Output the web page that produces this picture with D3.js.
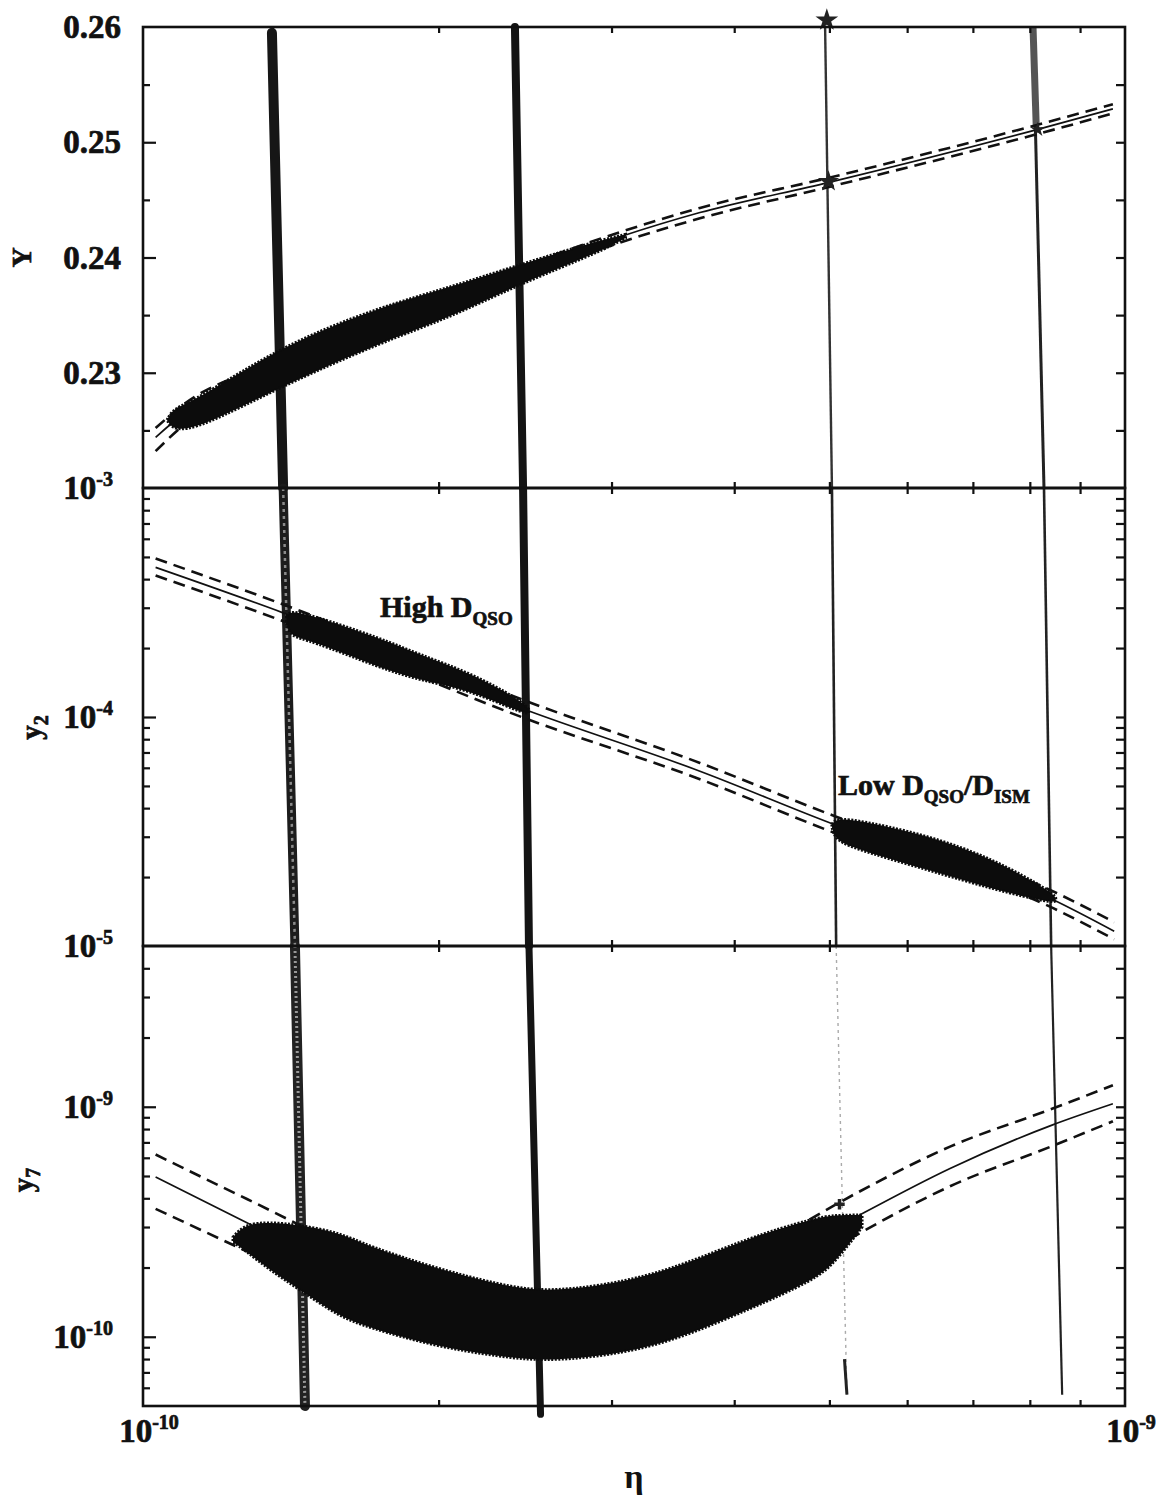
<!DOCTYPE html>
<html>
<head>
<meta charset="utf-8">
<script src="https://cdn.jsdelivr.net/npm/d3@7"></script>
<style>
  body { margin: 0; background: #fff; }
  svg { display: block; background: #fff; }
  text { font-family: "Liberation Serif", "DejaVu Serif", serif; font-weight: bold; fill: #111; }
  .lab { stroke: #111; stroke-width: 0.7px; }
</style>
</head>
<body>
<svg id="canvas" width="1162" height="1506"></svg>
<script>
// ---------- data ----------
// x axis: baryon-to-photon ratio eta
const etaDomain = [1e-10, 1e-9];
const etaMinor = [2e-10, 3e-10, 4e-10, 5e-10, 6e-10, 7e-10, 8e-10, 9e-10];
const etaLabels = [1e-10, 1e-9];

// top panel: Y
const heDomain = [0.22, 0.26];
const heMajor = [0.23, 0.24, 0.25];
const heMinor = [0.225, 0.235, 0.245, 0.255];
const heLabels = [0.26, 0.25, 0.24, 0.23];
const heEta  = [1.03e-10, 1.098e-10, 1.389e-10, 1.743e-10, 2.403e-10, 3.061e-10, 3.691e-10, 4.984e-10, 8.134e-10, 9.72e-10];
const heMid  = [0.2244, 0.2264, 0.2305, 0.2346, 0.2386, 0.2418, 0.2439, 0.2465, 0.2511, 0.2529];
const heHigh = [0.2252, 0.2272, 0.2312, 0.2352, 0.2391, 0.2422, 0.2443, 0.2469, 0.2515, 0.2533];
const heLow  = [0.2232, 0.2254, 0.2297, 0.2339, 0.2380, 0.2413, 0.2434, 0.2461, 0.2507, 0.2525];
const heBlobEta = [1.058e-10, 1.073e-10, 1.143e-10, 1.389e-10, 1.743e-10, 2.054e-10, 2.403e-10, 2.92e-10, 3.10e-10];
const heBlobTop = [0.2259, 0.2269, 0.2278, 0.2324, 0.2357, 0.2374, 0.2393, 0.2415, 0.2420];
const heBlobBot = [0.2259, 0.2250, 0.2252, 0.2289, 0.2326, 0.2348, 0.2376, 0.2405, 0.2417];

// middle panel: y2 (D/H)
const dDomain = [1e-5, 1e-3];
const dMajor = [1e-4];
const dMinor = [2e-5, 3e-5, 4e-5, 5e-5, 6e-5, 7e-5, 8e-5, 9e-5, 2e-4, 3e-4, 4e-4, 5e-4, 6e-4, 7e-4, 8e-4, 9e-4];
const dLabels = [1e-3, 1e-4, 1e-5];
const dEta  = [1.03e-10, 1.389e-10, 2.46e-10, 3.691e-10, 5.08e-10, 8.43e-10, 9.75e-10];
const dMid  = [4.5e-4, 2.85e-4, 1.07e-4, 5.8e-5, 3.37e-5, 1.6e-5, 1.16e-5];
const dHigh = [4.92e-4, 3.1e-4, 1.17e-4, 6.3e-5, 3.67e-5, 1.74e-5, 1.27e-5];
const dLow  = [4.15e-4, 2.62e-4, 0.98e-4, 5.35e-5, 3.1e-5, 1.47e-5, 1.07e-5];
const dHighBlobEta = [1.40e-10, 1.412e-10, 1.479e-10, 1.743e-10, 1.914e-10, 2.153e-10, 2.42e-10, 2.47e-10];
const dHighBlobTop = [2.75e-4, 2.9e-4, 2.8e-4, 2.21e-4, 1.87e-4, 1.56e-4, 1.19e-4, 1.08e-4];
const dHighBlobBot = [2.6e-4, 2.24e-4, 2.17e-4, 1.64e-4, 1.45e-4, 1.31e-4, 1.05e-4, 1.04e-4];
const dLowBlobEta = [5.03e-10, 5.067e-10, 5.224e-10, 6.30e-10, 7.375e-10, 8.43e-10, 8.5e-10];
const dLowBlobTop = [3.4e-5, 3.55e-5, 3.62e-5, 3.05e-5, 2.38e-5, 1.72e-5, 1.62e-5];
const dLowBlobBot = [3.3e-5, 2.96e-5, 2.71e-5, 2.15e-5, 1.76e-5, 1.54e-5, 1.58e-5];

// bottom panel: y7 (Li/H)
const liDomain = [5e-11, 5e-9];
const liMajor = [1e-10, 1e-9];
const liMinor = [6e-11, 7e-11, 8e-11, 9e-11, 2e-10, 3e-10, 4e-10, 5e-10, 6e-10, 7e-10, 8e-10, 9e-10, 2e-9, 3e-9, 4e-9];
const liLabels = [1e-9, 1e-10];
const liEta  = [1.03e-10, 1.276e-10, 1.6e-10, 2.0e-10, 2.5e-10, 3.0e-10, 3.6e-10, 4.3e-10, 5.36e-10, 6.635e-10, 8.44e-10, 9.72e-10];
const liMid  = [4.95e-10, 3.13e-10, 1.9e-10, 1.4e-10, 1.15e-10, 1.2e-10, 1.45e-10, 2.0e-10, 3.37e-10, 5.39e-10, 8.34e-10, 1.03e-9];
const liHigh = [6.2e-10, 3.97e-10, 2.5e-10, 1.75e-10, 1.4e-10, 1.45e-10, 1.65e-10, 2.5e-10, 4.27e-10, 6.71e-10, 9.82e-10, 1.24e-9];
const liLow  = [3.6e-10, 2.35e-10, 1.5e-10, 1.1e-10, 0.95e-10, 1.0e-10, 1.2e-10, 1.6e-10, 2.81e-10, 4.51e-10, 6.76e-10, 8.65e-10];
const liBlobEta = [1.235e-10, 1.270e-10, 1.347e-10, 1.445e-10, 1.587e-10, 1.695e-10, 1.983e-10, 2.310e-10, 2.549e-10, 2.934e-10, 3.433e-10, 4.131e-10, 4.834e-10, 5.067e-10, 5.398e-10];
const liBlobTop = [2.71e-10, 3.09e-10, 3.15e-10, 3.06e-10, 2.83e-10, 2.48e-10, 1.99e-10, 1.68e-10, 1.57e-10, 1.66e-10, 1.93e-10, 2.69e-10, 3.28e-10, 3.38e-10, 3.38e-10];
const liBlobBot = [2.58e-10, 2.38e-10, 1.95e-10, 1.60e-10, 1.22e-10, 1.10e-10, 9.1e-11, 8.2e-11, 7.85e-11, 8.2e-11, 9.4e-11, 1.31e-10, 1.77e-10, 2.11e-10, 3.0e-10];

// observational bands crossing all three panels: [panel, value, eta]
const bandA = [[0, 0.2595, 1.353e-10], [0, 0.22, 1.389e-10], [1, 1e-3, 1.389e-10], [1, 1e-5, 1.428e-10], [2, 5e-9, 1.428e-10], [2, 5e-11, 1.462e-10]];
const bandB = [[0, 0.26, 2.392e-10], [0, 0.22, 2.438e-10], [1, 1e-3, 2.438e-10], [1, 1e-5, 2.472e-10], [2, 5e-9, 2.472e-10], [2, 4.6e-11, 2.54e-10]];
const bandC = [[0, 0.26, 4.95e-10], [0, 0.22, 5.03e-10], [1, 1e-3, 5.03e-10], [1, 1e-5, 5.08e-10], [2, 5e-9, 5.08e-10], [2, 5.6e-11, 5.21e-10]];
const bandCTail = [[2, 8.0e-11, 5.18e-10], [2, 5.6e-11, 5.21e-10]];
const bandD = [[0, 0.26, 8.06e-10], [0, 0.22, 8.27e-10], [1, 1e-3, 8.27e-10], [1, 1e-5, 8.41e-10], [2, 5e-9, 8.41e-10], [2, 5.6e-11, 8.63e-10]];
const bandDTop = [[0, 0.26, 8.06e-10], [0, 0.2515, 8.12e-10]];

// point clusters where bands meet the curves: [panel, value, eta]
const clusters = [[0, 0.2606, 4.97e-10], [0, 0.2466, 4.99e-10], [0, 0.2511, 8.15e-10], [2, 3.77e-10, 5.12e-10]];

// ---------- layout ----------
const left = 143, right = 1125;
const panelTop = [27, 488, 946];
const panelBottom = [488, 946, 1406];
const ink = "#111";

const svg = d3.select("#canvas");

const x = d3.scaleLog().domain(etaDomain).range([left, right]);
const yHe = d3.scaleLinear().domain(heDomain).range([panelBottom[0], panelTop[0]]);
const yD = d3.scaleLog().domain(dDomain).range([panelBottom[1], panelTop[1]]);
const yLi = d3.scaleLog().domain(liDomain).range([panelBottom[2], panelTop[2]]);
const yScales = [yHe, yD, yLi];

// clip each panel
const defs = svg.append("defs");
yScales.forEach((s, p) => {
  defs.append("clipPath").attr("id", "clip" + p)
    .append("rect")
    .attr("x", left).attr("y", panelTop[p])
    .attr("width", right - left).attr("height", panelBottom[p] - panelTop[p]);
});

// ---------- bands ----------
function bandPath(band, p) {
  const pts = band.filter(d => d[0] === p);
  return d3.line().x(d => x(d[2])).y(d => yScales[p](d[1]))(pts);
}
const bandLayer = svg.append("g");
function drawBand(band, widths, colors, dashes, cap) {
  [0, 1, 2].forEach(p => {
    if (!widths[p]) return;
    bandLayer.append("path")
      .attr("d", bandPath(band, p))
      .attr("fill", "none")
      .attr("stroke", colors[p])
      .attr("stroke-width", widths[p])
      .attr("stroke-linecap", cap)
      .attr("stroke-dasharray", dashes[p]);
  });
}
drawBand(bandA, [10, 9, 10], ["#161616", "#1c1c1c", "#222"], [null, null, null], "round");
// speckled lighter core of the left band
drawBand(bandA, [0, 2.5, 3], ["#777", "#8a8a8a", "#999"], [null, "3,4", "2,3"], "butt");
drawBand(bandB, [8, 8, 7], ["#141414", "#141414", "#141414"], [null, null, null], "round");
drawBand(bandC, [2.4, 2.6, 1.4], ["#333", "#222", "#aaa"], [null, null, "3,4"], "butt");
drawBand(bandCTail, [0, 0, 3], ["#000", "#000", "#222"], [null, null, null], "butt");
drawBand(bandD, [3, 2.6, 2.2], ["#222", "#222", "#222"], [null, null, null], "butt");
drawBand(bandDTop, [7, 0, 0], ["#555", "#000", "#000"], [null, null, null], "butt");

// ---------- model curves and Monte Carlo regions ----------
function drawTheory(p, eta, mid, hi, lo) {
  const g = svg.append("g").attr("clip-path", "url(#clip" + p + ")");
  const line = d3.line()
    .x((d, i) => x(eta[i]))
    .y(d => yScales[p](d))
    .curve(d3.curveMonotoneX);
  g.append("path").datum(mid).attr("d", line)
    .attr("fill", "none").attr("stroke", ink).attr("stroke-width", 1.7);
  [hi, lo].forEach(s => {
    g.append("path").datum(s).attr("d", line)
      .attr("fill", "none").attr("stroke", ink).attr("stroke-width", 2.6)
      .attr("stroke-dasharray", "12,7");
  });
}
function drawBlob(p, eta, top, bot) {
  const rows = d3.zip(eta, top, bot);
  const area = d3.area()
    .x(d => x(d[0]))
    .y0(d => yScales[p](d[2]))
    .y1(d => yScales[p](d[1]))
    .curve(d3.curveBasis);
  const g = svg.append("g").attr("clip-path", "url(#clip" + p + ")");
  g.append("path").datum(rows).attr("d", area)
    .attr("fill", "#0c0c0c")
    .attr("stroke", "#0c0c0c").attr("stroke-width", 3)
    .attr("stroke-dasharray", "2,1.5");
}

drawTheory(0, heEta, heMid, heHigh, heLow);
drawBlob(0, heBlobEta, heBlobTop, heBlobBot);
drawTheory(1, dEta, dMid, dHigh, dLow);
drawBlob(1, dHighBlobEta, dHighBlobTop, dHighBlobBot);
drawBlob(1, dLowBlobEta, dLowBlobTop, dLowBlobBot);
drawTheory(2, liEta, liMid, liHigh, liLow);
drawBlob(2, liBlobEta, liBlobTop, liBlobBot);

// clusters of points
const clusterSize = [160, 140, 70, 60];
const clusterType = [d3.symbolStar, d3.symbolStar, d3.symbolStar, d3.symbolCross];
svg.append("g").selectAll("path")
  .data(clusters)
  .join("path")
    .attr("transform", d => "translate(" + x(d[2]) + "," + yScales[d[0]](d[1]) + ")")
    .attr("d", (d, i) => d3.symbol().type(clusterType[i]).size(clusterSize[i])())
    .attr("fill", "#222");

// ---------- frames and ticks ----------
const axes = svg.append("g");
const tickMajor = [heMajor, dMajor, liMajor];
const tickMinor = [heMinor, dMinor, liMinor];
yScales.forEach((s, p) => {
  axes.append("g").attr("transform", "translate(" + left + ",0)")
    .call(d3.axisLeft(s).tickValues(tickMajor[p]).tickSize(-13).tickFormat(""));
  axes.append("g").attr("transform", "translate(" + left + ",0)")
    .call(d3.axisLeft(s).tickValues(tickMinor[p]).tickSize(-7).tickFormat(""));
  axes.append("g").attr("transform", "translate(" + right + ",0)")
    .call(d3.axisRight(s).tickValues(tickMajor[p].concat(tickMinor[p])).tickSize(-9).tickFormat(""));
  axes.append("g").attr("transform", "translate(0," + panelTop[p] + ")")
    .call(d3.axisTop(x).tickValues(etaMinor).tickSize(-6).tickFormat(""));
  axes.append("g").attr("transform", "translate(0," + panelBottom[p] + ")")
    .call(d3.axisBottom(x).tickValues(etaMinor).tickSize(-6).tickFormat(""));
  axes.append("rect")
    .attr("x", left).attr("y", panelTop[p])
    .attr("width", right - left).attr("height", panelBottom[p] - panelTop[p])
    .attr("fill", "none").attr("stroke", ink).attr("stroke-width", 2.6);
});
axes.selectAll(".domain").remove();
axes.selectAll(".tick line").attr("stroke", ink).attr("stroke-width", 2.2);

// ---------- labels ----------
const labels = svg.append("g");
function powerLabel(sel, v) {
  const e = Math.round(Math.log10(v));
  sel.append("tspan").text("10");
  sel.append("tspan").attr("dy", -13).attr("font-size", 20).text(e);
}

labels.selectAll(".he")
  .data(heLabels).join("text")
    .attr("class", "lab")
    .attr("x", 121).attr("y", d => yHe(d) + 11)
    .attr("text-anchor", "end").attr("font-size", 33)
    .text(d => d3.format(".2f")(d));

[[dLabels, yD], [liLabels, yLi]].forEach(([vals, s]) => {
  vals.forEach(v => {
    labels.append("text").attr("class", "lab")
      .attr("x", 113).attr("y", s(v) + 11)
      .attr("text-anchor", "end").attr("font-size", 33)
      .call(powerLabel, v);
  });
});

etaLabels.forEach(v => {
  labels.append("text").attr("class", "lab")
    .attr("x", x(v) + 6).attr("y", panelBottom[2] + 36)
    .attr("text-anchor", "middle").attr("font-size", 33)
    .call(powerLabel, v);
});

// axis titles
labels.append("text").attr("class", "lab")
  .attr("transform", "translate(31," + yHe(0.24) + ") rotate(-90)")
  .attr("text-anchor", "middle").attr("font-size", 28)
  .text("Y");
const y2t = labels.append("text").attr("class", "lab")
  .attr("transform", "translate(41," + yD(9e-5) + ") rotate(-90)")
  .attr("text-anchor", "middle").attr("font-size", 29);
y2t.append("tspan").text("y");
y2t.append("tspan").attr("dy", 7).attr("font-size", 20).text("2");
const y7t = labels.append("text").attr("class", "lab")
  .attr("transform", "translate(33," + yLi(4.8e-10) + ") rotate(-90)")
  .attr("text-anchor", "middle").attr("font-size", 29);
y7t.append("tspan").text("y");
y7t.append("tspan").attr("dy", 7).attr("font-size", 20).text("7");

labels.append("text")
  .attr("x", x(Math.sqrt(etaDomain[0] * etaDomain[1]))).attr("y", 1488)
  .attr("text-anchor", "middle").attr("font-size", 34).attr("font-weight", "normal")
  .text("η");

// annotations
const hi = labels.append("text").attr("class", "lab").attr("x", 380).attr("y", 617).attr("font-size", 30);
hi.append("tspan").text("High D");
hi.append("tspan").attr("dy", 8).attr("font-size", 19).text("QSO");

const lo = labels.append("text").attr("class", "lab").attr("x", 838).attr("y", 795).attr("font-size", 30);
lo.append("tspan").text("Low D");
lo.append("tspan").attr("dy", 8).attr("font-size", 19).text("QSO");
lo.append("tspan").attr("dy", -8).text("/D");
lo.append("tspan").attr("dy", 8).attr("font-size", 19).text("ISM");
</script>
</body>
</html>
